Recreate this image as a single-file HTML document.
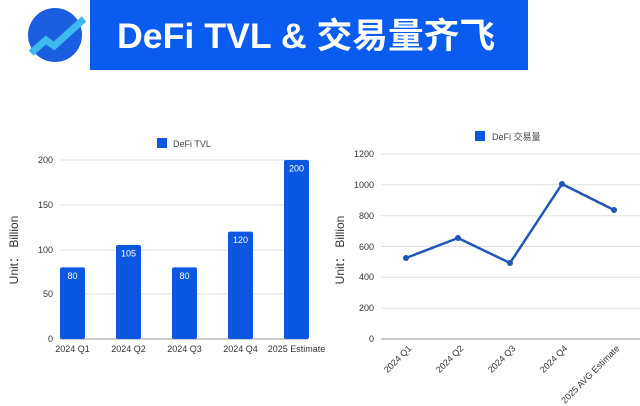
<!DOCTYPE html>
<html><head><meta charset="utf-8">
<style>
html,body{margin:0;padding:0;background:#fff;}
body{width:640px;height:406px;overflow:hidden;position:relative;font-family:"Liberation Sans","Noto Sans CJK SC",sans-serif;}
</style></head>
<body>
<svg width="640" height="406" viewBox="0 0 640 406" xmlns="http://www.w3.org/2000/svg" style="position:absolute;left:0;top:0" font-family="Liberation Sans, Noto Sans CJK SC, sans-serif">
  <!-- header -->
  <rect x="90" y="0" width="438" height="70" fill="#0a5cf0"/>
  <text x="117" y="48" textLength="378" lengthAdjust="spacingAndGlyphs" font-size="35" font-weight="bold" fill="#fff">DeFi TVL &amp; 交易量齐飞</text>
  <circle cx="55" cy="35" r="27" fill="#1b5ee0"/>
  <polyline points="31,53 46,40 54,46 84,19" fill="none" stroke="#3bb9f0" stroke-width="7" stroke-linejoin="miter"/>

  <!-- left chart -->
  <g font-size="9" fill="#333">
    <rect x="157" y="138" width="10" height="10" fill="#0b57e0"/>
    <text x="173" y="147" fill="#444">DeFi TVL</text>
    <g stroke="#e0e0e0" stroke-width="1">
      <line x1="60" y1="160" x2="308" y2="160"/>
      <line x1="60" y1="205" x2="308" y2="205"/>
      <line x1="60" y1="250" x2="308" y2="250"/>
      <line x1="60" y1="294" x2="308" y2="294"/>
    </g>
    <line x1="60" y1="339" x2="308" y2="339" stroke="#999"/>
    <g text-anchor="end">
      <text x="53" y="163">200</text>
      <text x="53" y="208">150</text>
      <text x="53" y="253">100</text>
      <text x="53" y="297">50</text>
      <text x="53" y="342">0</text>
    </g>
    <g fill="#0b57e0">
      <rect x="60" y="267.4" width="25" height="71.6" rx="2"/>
      <rect x="116" y="245" width="25" height="94" rx="2"/>
      <rect x="172" y="267.4" width="25" height="71.6" rx="2"/>
      <rect x="228" y="231.6" width="25" height="107.4" rx="2"/>
      <rect x="284" y="160" width="25" height="179" rx="2"/>
    </g>
    <g fill="#fff" text-anchor="middle">
      <text x="72.5" y="279">80</text>
      <text x="128.5" y="256.5">105</text>
      <text x="184.5" y="279">80</text>
      <text x="240.5" y="243">120</text>
      <text x="296.5" y="171.5">200</text>
    </g>
    <g text-anchor="middle">
      <text x="72.5" y="352">2024 Q1</text>
      <text x="128.5" y="352">2024 Q2</text>
      <text x="184.5" y="352">2024 Q3</text>
      <text x="240.5" y="352">2024 Q4</text>
      <text x="296.5" y="352">2025 Estimate</text>
    </g>
    <text transform="translate(18,250) rotate(-90)" text-anchor="middle" font-size="12" fill="#333">Unit：  Billion</text>
  </g>

  <!-- right chart -->
  <g font-size="9" fill="#333">
    <rect x="475" y="131" width="10" height="10" fill="#0b57e0"/>
    <text x="492" y="140" fill="#444">DeFi 交易量</text>
    <g stroke="#e0e0e0" stroke-width="1">
      <line x1="381" y1="154" x2="640" y2="154"/>
      <line x1="381" y1="184.8" x2="640" y2="184.8"/>
      <line x1="381" y1="215.7" x2="640" y2="215.7"/>
      <line x1="381" y1="246.5" x2="640" y2="246.5"/>
      <line x1="381" y1="277.3" x2="640" y2="277.3"/>
      <line x1="381" y1="308.2" x2="640" y2="308.2"/>
    </g>
    <line x1="381" y1="339" x2="640" y2="339" stroke="#bbb" stroke-width="1.5"/>
    <g text-anchor="end">
      <text x="374" y="157">1200</text>
      <text x="374" y="188">1000</text>
      <text x="374" y="219">800</text>
      <text x="374" y="250">600</text>
      <text x="374" y="280">400</text>
      <text x="374" y="311">200</text>
      <text x="374" y="342">0</text>
    </g>
    <polyline points="406,258 458,238 510,263 562,184 614,210" fill="none" stroke="#1f56b8" stroke-width="2.5" stroke-linejoin="round"/>
    <g fill="#1f56b8">
      <circle cx="406" cy="258" r="3"/>
      <circle cx="458" cy="238" r="3"/>
      <circle cx="510" cy="263" r="3"/>
      <circle cx="562" cy="184" r="3"/>
      <circle cx="614" cy="210" r="3"/>
    </g>
    <g text-anchor="end">
      <text transform="translate(412,349) rotate(-45)">2024 Q1</text>
      <text transform="translate(464,349) rotate(-45)">2024 Q2</text>
      <text transform="translate(516,349) rotate(-45)">2024 Q3</text>
      <text transform="translate(568,349) rotate(-45)">2024 Q4</text>
      <text transform="translate(620,349) rotate(-45)">2025 AVG Estimate</text>
    </g>
    <text transform="translate(344,250) rotate(-90)" text-anchor="middle" font-size="12" fill="#333">Unit：  Billion</text>
  </g>
</svg>
</body></html>
